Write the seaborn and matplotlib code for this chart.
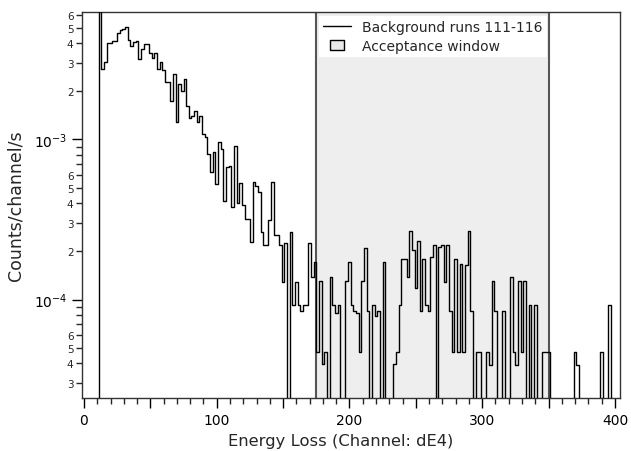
import numpy as np
import pandas as pd
import matplotlib
matplotlib.use("Agg")
import matplotlib.pyplot as plt
from matplotlib import ticker
from matplotlib.lines import Line2D
from matplotlib.path import Path
import seaborn as sns

# channel bin edges (2 channels per bin)
bin_edges = np.arange(1, 401, 2)

# background rate per bin, in units of 1e-4 counts/channel/s
rate_e4 = [
    0, 0, 0, 0, 0, 300, 27.7, 30.5, 40.0, 40.0,            # 1-19
    41.0, 41.0, 46.3, 48.4, 49.0, 50.4, 41.6, 38.4, 40.6, 41.2,  # 21-39
    31.6, 36.5, 39.6, 39.6, 34.6, 32.2, 34.6, 27.4, 30.5, 27.0,  # 41-59
    22.8, 22.8, 17.5, 25.8, 12.8, 22.3, 20.2, 24.0, 16.1, 13.7,  # 61-79
    14.0, 15.0, 12.8, 14.0, 10.8, 10.3, 8.1, 6.3, 8.3, 5.3,      # 81-99
    9.7, 8.7, 4.1, 6.7, 6.8, 3.8, 9.1, 4.0, 5.35, 3.9,           # 101-119
    3.2, 3.2, 2.3, 5.4, 5.1, 4.7, 2.66, 2.18, 2.18, 3.12,        # 121-139
    5.4, 2.54, 2.54, 2.18, 1.29, 2.25, 0, 2.64, 0.92, 1.29,      # 141-159
    0.93, 0.85, 0.93, 0.93, 2.25, 1.38, 1.71, 0.47, 1.31, 0.395, # 161-179
    0.47, 0, 1.39, 0.93, 0.82, 0.93, 0, 0, 1.31, 1.71,           # 181-199
    0.93, 0.85, 0.82, 0.47, 1.31, 2.1, 0.85, 0, 0.93, 0.79,      # 201-219
    0.85, 0, 1.71, 0, 0, 0, 0.395, 0.47, 0.93, 1.78,             # 221-239
    1.78, 1.39, 2.7, 2.05, 1.18, 2.32, 0.85, 1.78, 0.93, 0.85,   # 241-259
    1.84, 2.2, 0, 2.12, 2.2, 1.28, 2.2, 0.85, 0.47, 1.78,        # 261-279
    0.47, 1.67, 0.47, 1.65, 2.7, 0.85, 0, 0.47, 0.47, 0,         # 281-299
    0, 0.47, 0.39, 1.31, 0.85, 0, 0, 0.85, 0, 0,                 # 301-319
    1.39, 0.47, 0.39, 1.30, 0.47, 1.30, 0, 0.93, 0, 0.93,        # 321-339
    0, 0, 0.47, 0.47, 0.47, 0, 0, 0, 0, 0,                       # 341-359
    0, 0, 0, 0, 0.47, 0.39, 0, 0, 0, 0,                          # 361-379
    0, 0, 0, 0, 0.47, 0, 0, 0.93, 0,                             # 381-397
]

window = (175, 350)
hist_label = "Background runs 111-116"
window_label = "Acceptance window"

df = pd.DataFrame({
    "channel": (bin_edges[:-1] + bin_edges[1:]) / 2,
    "rate": np.array(rate_e4) * 1e-4,
})

sns.set_style("ticks")
plt.rcParams["font.family"] = ["DejaVu Sans"]

fig, ax = plt.subplots(figsize=(6.31, 4.52), dpi=100)
fig.subplots_adjust(left=0.1295, right=0.9826, top=0.9712, bottom=0.1173)

# acceptance window
ax.axvspan(window[0], window[1], facecolor="#eeeeee", edgecolor="none", zorder=0)
for xw in window:
    ax.axvline(xw, color="#555555", lw=1.5, zorder=1)

sns.histplot(data=df, x="channel", weights="rate", bins=list(bin_edges),
             element="step", fill=False, color="black", linewidth=1.0,
             ax=ax, zorder=3)

ax.set_yscale("log")
ax.set_xlim(-1.7, 403.8)
ax.set_ylim(2.43e-5, 6.25e-3)

ax.xaxis.set_major_locator(ticker.MultipleLocator(50))
ax.xaxis.set_major_formatter(ticker.FuncFormatter(
    lambda v, p: f"{v:.0f}" if abs(v % 100) < 1e-6 else ""))
ax.xaxis.set_minor_locator(ticker.MultipleLocator(10))

ax.yaxis.set_major_locator(ticker.LogLocator(base=10, numticks=10))
ax.yaxis.set_minor_locator(ticker.LogLocator(base=10, subs=np.arange(2, 10), numticks=20))


def minor_lab(v, p):
    m = int(round(v / 10 ** np.floor(np.log10(v) + 1e-9)))
    return str(m) if 2 <= m <= 6 else ""


ax.yaxis.set_minor_formatter(ticker.FuncFormatter(minor_lab))

ax.tick_params(axis="both", which="major", length=7, width=1, colors="black",
               labelsize=10, direction="out")
ax.tick_params(axis="both", which="minor", length=4, width=1, direction="out")
ax.tick_params(axis="y", which="minor", labelsize=7.5, pad=2)
for s in ax.spines.values():
    s.set_color("#333333")
    s.set_linewidth(1)

ax.set_xlabel("Energy Loss (Channel: dE4)", fontsize=11.8)
ax.set_ylabel("Counts/channel/s", fontsize=12.5)
ax.xaxis.set_label_coords(0.481, -0.092)
ax.yaxis.set_label_coords(-0.106, 0.5)

rect = Path([(-1.5, -1), (1.5, -1), (1.5, 1), (-1.5, 1), (-1.5, -1)])
handles = [
    Line2D([], [], color="black", lw=1.0),
    Line2D([], [], marker=rect, markersize=10, markerfacecolor="#e8e8e8",
           markeredgecolor="black", markeredgewidth=1, linestyle="none"),
]
leg = ax.legend(handles, [hist_label, window_label], loc="upper right",
                bbox_to_anchor=(0.864, 0.99), fontsize=10, frameon=True,
                fancybox=False, framealpha=1, facecolor="white",
                edgecolor="none", borderpad=0.3, labelspacing=0.35,
                handlelength=2.0, handletextpad=0.8, borderaxespad=0)
leg.set_zorder(5)

fig.savefig("out.png", dpi=100)
